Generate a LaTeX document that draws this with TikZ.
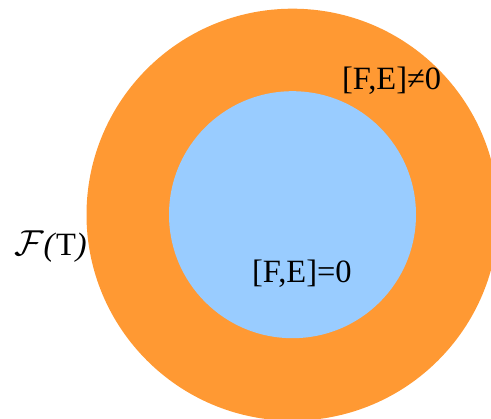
\documentclass[tikz,border=0pt]{standalone}
\usepackage{fontspec}
\usepackage{graphicx}
\setmainfont{Liberation Serif}
\begin{document}
\begin{tikzpicture}[x=1pt,y=1pt,
  lbl/.style={inner sep=0pt,outer sep=0pt,font=\fontsize{32.5}{36}\selectfont,text=black}]
\definecolor{ringorange}{RGB}{255,153,51}
\definecolor{coreblue}{RGB}{153,204,255}
\useasboundingbox (0,0) rectangle (491,419);
\clip (0,0) rectangle (491,419);
\fill[ringorange] (292.5,204.3) circle[radius=206];
\fill[coreblue] (292.5,204.3) circle[radius=123.5];
\node[lbl,anchor=base west] (ne) at (342,329) {[F,E]≠0};
\node[lbl,anchor=base west] (eq) at (252,136) {[F,E]=0};
\node[lbl,anchor=base west] (ft) at (15,163) {\scalebox{1.45}{$\mathcal{F}$}\kern-1pt\textit{(}T\textit{)}};
\end{tikzpicture}
\end{document}
